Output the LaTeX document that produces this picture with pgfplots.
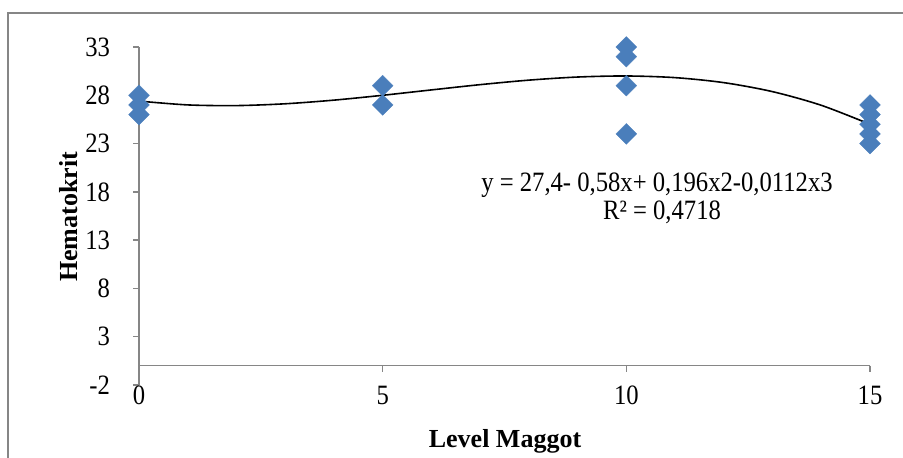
\documentclass[border=0pt]{standalone}
\usepackage{fontspec}
\setmainfont{Liberation Serif}
\newfontfamily\tfont{Liberation Serif}[FakeStretch=0.88]
\usepackage{pgfplots}
\pgfplotsset{compat=1.18}
\definecolor{mk}{RGB}{74,126,187}
\definecolor{ax}{RGB}{134,134,134}
\begin{document}
\begin{tikzpicture}
\path[use as bounding box] (0,0) rectangle (451.5pt,228.5pt);
\draw[ax, line width=0.75pt] (4pt,-10pt) -- (4pt,222pt) -- (470pt,222pt);
\begin{axis}[
 at={(69.5pt,36pt)}, anchor=south west, scale only axis,
 width=365.5pt, height=169pt,
 xmin=0, xmax=15, ymin=-2, ymax=33,
 axis x line=bottom, axis y line=left,
 x axis line style={draw=none},
 y axis line style={ax, line width=0.7pt, -},
 xtick={0,5,10,15}, ytick={-2,3,...,33},
 xtick style={draw=none, /pgfplots/major tick length=0pt},
 ytick style={ax, line width=0.7pt},
 tick align=outside, major tick length=3pt,
 ticklabel style={font=\tfont\fontsize{14}{16}\selectfont},
 xticklabel style={yshift=6pt},
 yticklabel style={xshift=-8pt},
 /pgf/number format/assume math mode=true,
 clip=false,
]
\addplot[ax, line width=0.7pt, no marks] coordinates {(0,0) (15,0)};
\addplot[ax, line width=0.7pt, no marks] coordinates {(5,0) (5,-0.62)};
\addplot[ax, line width=0.7pt, no marks] coordinates {(10,0) (10,-0.62)};
\addplot[ax, line width=0.7pt, no marks] coordinates {(15,0) (15,-0.62)};
\addplot[mk, only marks, mark=square*, mark size=3.7pt, mark options={rotate=45, fill=mk, draw=mk, line width=0.1pt}] coordinates {
(0,28) (0,27) (0,26)
(5,29) (5,27)
(10,33) (10,32) (10,29) (10,24)
(15,27) (15,26) (15,25) (15,24) (15,23)
};
\addplot[black, line width=0.8pt, smooth, no marks] coordinates {
(0,27.4) (1,27.0048) (2,26.9344) (3,27.1216) (4,27.4992) (5,28.0)
(6,28.5568) (7,29.1024) (8,29.5696) (9,29.8912) (10,30.0)
(11,29.8288) (12,29.3104) (13,28.3776) (14,26.9632) (15,25.0)
};
\end{axis}
\node[anchor=base, font=\fontsize{13}{15}\selectfont\bfseries] at (252.5pt,5pt) {Level Maggot};
\node[anchor=base, rotate=90, font=\fontsize{13}{15}\selectfont\bfseries] at (38.5pt,120pt) {Hematokrit};
\node[anchor=base, font=\tfont\fontsize{14}{16}\selectfont] at (328.5pt,133pt) {y = 27,4- 0,58x+ 0,196x2-0,0112x3};
\node[anchor=base, font=\tfont\fontsize{14}{16}\selectfont] at (331pt,119pt) {R² = 0,4718};
\end{tikzpicture}
\end{document}
